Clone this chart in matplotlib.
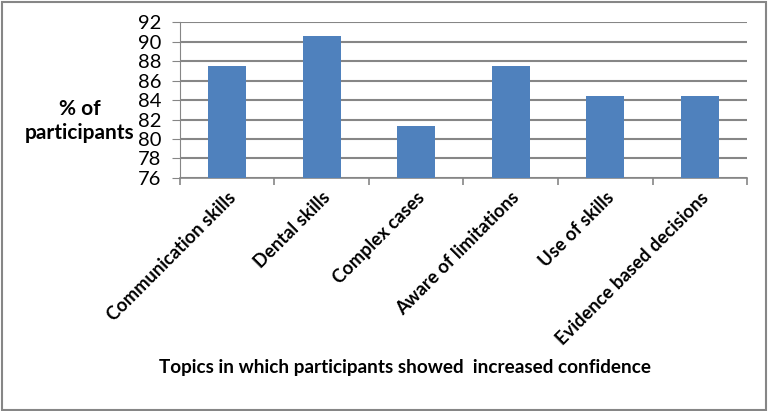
#!/usr/bin/env python3
"""Bar chart: topics in which participants showed increased confidence."""

import matplotlib

matplotlib.use("Agg")
import matplotlib.pyplot as plt
from matplotlib.patches import Rectangle

topics = [
    "Communication skills",
    "Dental skills",
    "Complex cases",
    "Aware of limitations",
    "Use of skills",
    "Evidence based decisions",
]
percent = [87.5, 90.6, 81.3, 87.5, 84.4, 84.4]
y_ticks = [76, 78, 80, 82, 84, 86, 88, 90, 92]

plt.rcParams["font.family"] = ["Lato", "DejaVu Sans"]

fig = plt.figure(figsize=(7.68, 4.11), dpi=100)
ax = fig.add_axes([0.234, 0.567, 0.739, 0.379])

x = range(len(topics))
ax.bar(x, [p - y_ticks[0] for p in percent], bottom=y_ticks[0], width=0.4,
       color="#4F81BD", zorder=3)

ax.set_xlim(-0.5, len(topics) - 0.5)
ax.set_ylim(y_ticks[0], y_ticks[-1])
ax.set_yticks(y_ticks)
ax.tick_params(axis="y", labelsize=14.5, length=6, color="#868686", pad=7)
ax.yaxis.grid(True, color="#868686", linewidth=1.5, zorder=0)

ax.set_xticks([i - 0.5 for i in range(len(topics) + 1)])
ax.set_xticklabels([])
ax.set_xticks(list(x), minor=True)
ax.set_xticklabels(topics, minor=True, rotation=45, ha="right",
                   rotation_mode="anchor", fontsize=13.2, fontweight="bold")
ax.tick_params(axis="x", which="major", length=5, color="#868686", width=1.2)
ax.tick_params(axis="x", which="minor", length=0, pad=8)

for side in ("top", "right"):
    ax.spines[side].set_visible(False)
ax.spines["left"].set_color("#868686")
ax.spines["bottom"].set_color("#868686")
ax.spines["bottom"].set_linewidth(1.2)

fig.text(0.104, 0.706, "% of\nparticipants", ha="center", va="center",
         fontsize=15, fontweight="bold", linespacing=1.25)
fig.text(0.527, 0.107, "Topics in which participants showed  increased confidence",
         ha="center", va="center", fontsize=13.6, fontweight="bold")

fig.patches.append(Rectangle((0.003, 0.003), 0.994, 0.992, transform=fig.transFigure,
                             fill=False, edgecolor="#868686", linewidth=1.5))

fig.savefig("out.png", dpi=100)
